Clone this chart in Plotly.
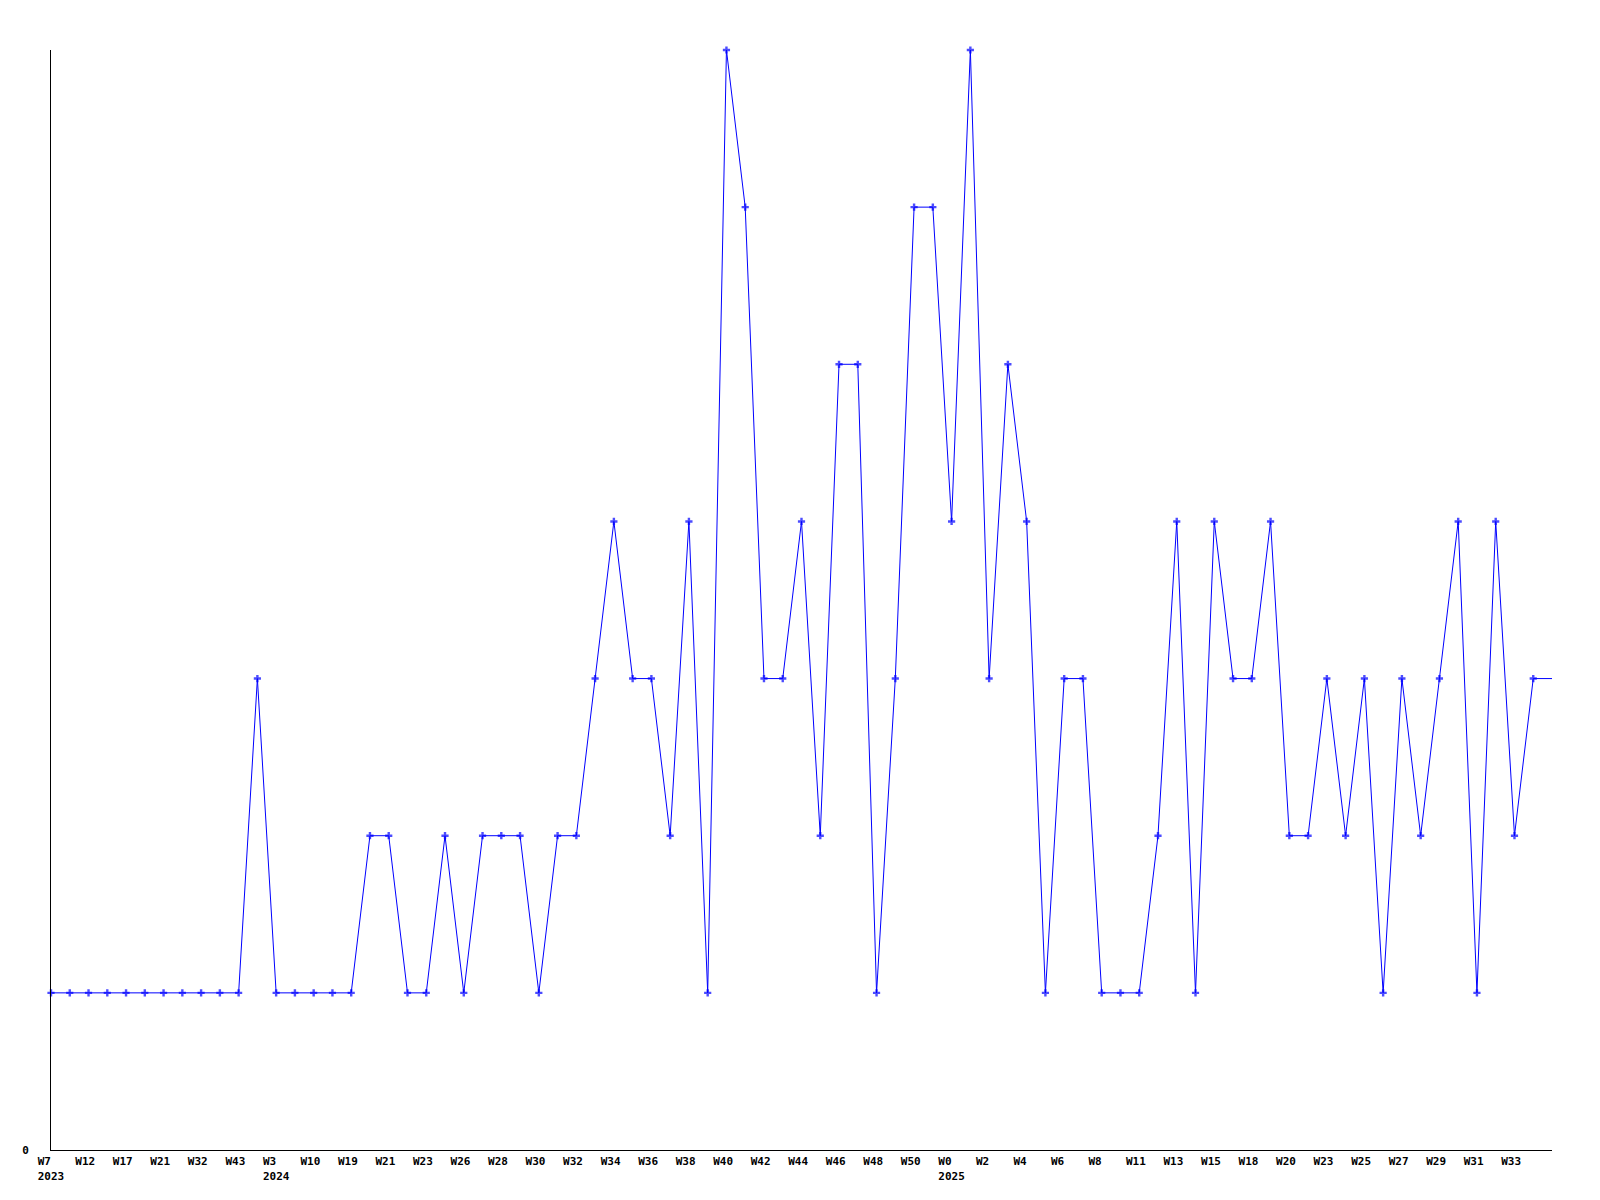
import plotly.graph_objects as go

# Weekly values, one per point (index 0 = W7 2023)
values = [1, 1, 1, 1, 1, 1, 1, 1, 1, 1,
          1, 3, 1, 1, 1, 1, 1, 2, 2, 1,
          1, 2, 1, 2, 2, 2, 1, 2, 2, 3,
          4, 3, 3, 2, 4, 1, 7, 6, 3, 3,
          4, 2, 5, 5, 1, 3, 6, 6, 4, 7,
          3, 5, 4, 1, 3, 3, 1, 1, 1, 2,
          4, 1, 4, 3, 3, 4, 2, 2, 3, 2,
          3, 1, 3, 2, 3, 4, 1, 4, 2, 3,
          3]

# Tick labels, one for every second point
week_labels = ["W7", "W12", "W17", "W21", "W32", "W43", "W3", "W10", "W19", "W21",
               "W23", "W26", "W28", "W30", "W32", "W34", "W36", "W38", "W40", "W42",
               "W44", "W46", "W48", "W50", "W0", "W2", "W4", "W6", "W8", "W11",
               "W13", "W15", "W18", "W20", "W23", "W25", "W27", "W29", "W31", "W33"]
year_labels = {0: "2023", 6: "2024", 24: "2025"}

x = list(range(len(values)))
tickvals = [2 * i for i in range(len(week_labels))]
NB = "\u00a0"
ticktext = []
for i, w in enumerate(week_labels):
    t = w + NB * (4 - len(w))
    if i in year_labels:
        t += "<br>" + year_labels[i]
    ticktext.append(t)

marker_sizes = [6] * (len(values) - 1) + [0]

fig = go.Figure()
fig.add_trace(go.Scatter(
    x=x, y=values, mode="lines+markers",
    line=dict(color="#0000FF", width=1),
    marker=dict(symbol="cross", size=marker_sizes, color="#0000FF", line=dict(width=0)),
    cliponaxis=False, showlegend=False, hoverinfo="skip",
))

font = dict(family="DejaVu Sans Mono", size=11, color="black", weight="bold")

fig.update_layout(
    width=1584, height=1184,
    margin=dict(l=43, r=40, t=42, b=42),
    paper_bgcolor="white", plot_bgcolor="white",
    showlegend=False,
)
fig.update_xaxes(
    range=[0, 80], showgrid=False, zeroline=False, automargin=False,
    showline=True, linecolor="black", linewidth=1,
    tickmode="array", tickvals=tickvals, ticktext=ticktext,
    ticks="", tickfont=font, tickangle=0, ticklabelstandoff=1,
)
fig.update_yaxes(
    range=[0, 7], showgrid=False, zeroline=False, automargin=False,
    showline=True, linecolor="black", linewidth=1,
    tickmode="array", tickvals=[0], ticktext=["0"],
    ticks="", tickfont=font, ticklabelstandoff=19,
)

fig.write_html("out.html")
